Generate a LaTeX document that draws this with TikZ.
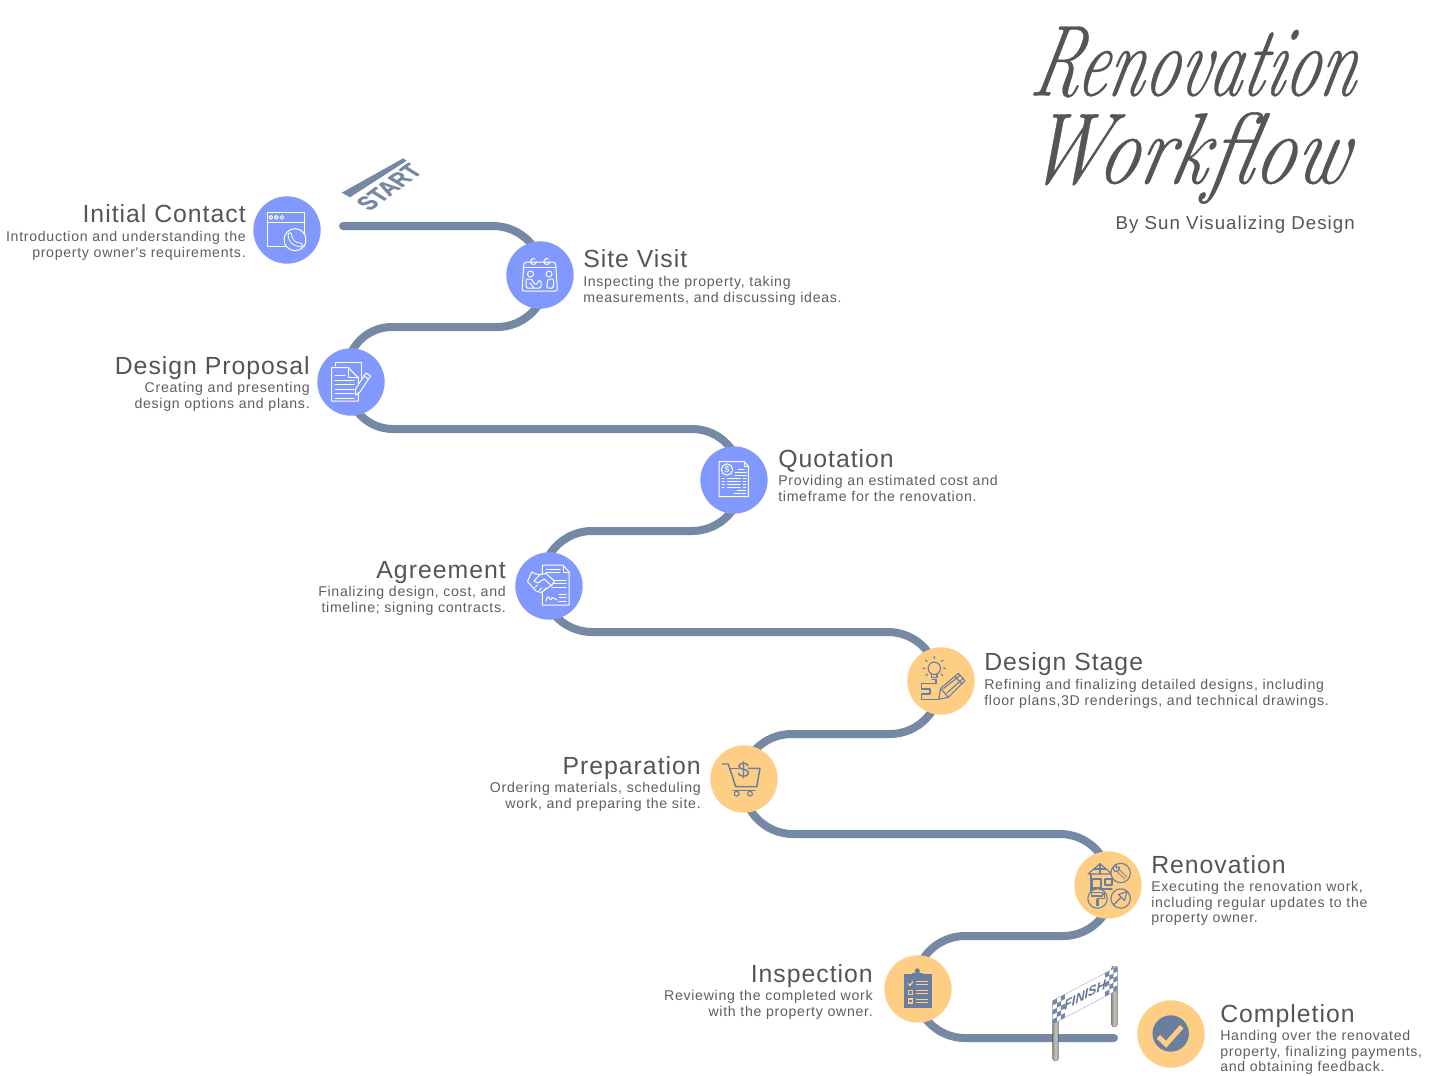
\documentclass[tikz,border=0pt]{standalone}
\usepackage{fontspec}
\newfontfamily\bodyf{Liberation Sans}[LetterSpace=5]
\newfontfamily\headf{Liberation Sans}[LetterSpace=4]
\newfontfamily\byf{Liberation Sans}[LetterSpace=5.5]
\newfontfamily\heavyf{Liberation Sans}[BoldFeatures={FakeBold=1.2}]
\newfontfamily\plainf{Liberation Sans}
\newfontfamily\scriptf{Latin Modern Roman}[ItalicFeatures={FakeBold=0.4}]
\usetikzlibrary{calc}
\definecolor{road}{HTML}{7589A5}
\definecolor{bluec}{HTML}{8199FF}
\definecolor{orangec}{HTML}{FFCE85}
\definecolor{ink}{HTML}{6A7FA0}
\definecolor{txt}{HTML}{555555}
\definecolor{desc}{HTML}{5E5E5E}
\definecolor{postd}{HTML}{8F8F88}
\definecolor{postm}{HTML}{C9C9C4}
\definecolor{finishink}{HTML}{5F7494}
\pgfdeclarelayer{bg}
\pgfsetlayers{bg,main}
\tikzset{
  stage/.style={circle,minimum size=50.5pt,inner sep=0pt,fill=#1},
  headl/.style={anchor=base west,inner sep=0pt,text=txt,font=\headf\fontsize{18.6}{20}\selectfont},
  headr/.style={anchor=base east,inner sep=0pt,text=txt,font=\headf\fontsize{18.6}{20}\selectfont},
  descl/.style={anchor=north west,inner sep=0pt,align=left,text=desc,font=\bodyf\fontsize{10.6}{11.8}\selectfont},
  descr/.style={anchor=north east,inner sep=0pt,align=right,text=desc,font=\bodyf\fontsize{10.6}{11.8}\selectfont},
  titlef/.style={inner sep=0pt,text=txt,font=\scriptf\itshape\fontsize{54}{60}\selectfont},
  road line/.style={draw=road,line width=6pt,line cap=round},
  wi/.style={draw=white,line width=0.75pt,line join=round,line cap=round},
  oi/.style={draw=ink,line width=0.85pt,line join=round,line cap=round},
  postbar/.style={left color=postd,right color=postd,middle color=postm},
}
\begin{document}
\begin{tikzpicture}[x=0.75pt,y=-0.75pt]
\useasboundingbox (0,0) rectangle (1432,1075);
\begin{pgfonlayer}{bg}
\fill[white] (0,0) rectangle (1432,1075);
\end{pgfonlayer}

% stages
\node[stage=bluec] (initial) at (287,230) {};
\node[stage=bluec] (site) at (540,275) {};
\node[stage=bluec] (proposal) at (351,382) {};
\node[stage=bluec] (quote) at (734,480) {};
\node[stage=bluec] (agree) at (549,586) {};
\node[stage=orangec] (dstage) at (941,681) {};
\node[stage=orangec] (prep) at (744,779) {};
\node[stage=orangec] (reno) at (1108,885) {};
\node[stage=orangec] (inspect) at (918,989) {};
\node[stage=orangec] (done) at (1171,1034) {};
\coordinate (roadstart) at (343,226);
\coordinate (roadend) at (1114,1038);

% road
\begin{pgfonlayer}{bg}
\draw[road line] (roadstart) -- (493,226) .. controls (520.5,226) and (543,248.5) .. (543,276) -- (site.center)
  -- (547,277) .. controls (547,304.5) and (524.5,327) .. (497,327) -- (392,327)
  .. controls (367,327) and (347,347) .. (347,372) -- (proposal.center)
  -- (348,384) .. controls (348,409) and (368,429) .. (393,429) -- (692,429)
  .. controls (719.5,429) and (741,451.5) .. (741,479) -- (quote.center)
  -- (742,481) .. controls (742,508.5) and (719.5,531) .. (692,531) -- (592,531)
  .. controls (564.5,531) and (542,553.5) .. (542,581) -- (agree.center)
  -- (542,582) .. controls (542,609.5) and (564.5,632) .. (592,632) -- (888,632)
  .. controls (915.5,632) and (938,654.5) .. (938,682) -- (dstage.center)
  -- (940,684) .. controls (940,711.5) and (917.5,734) .. (890,734) -- (792,734)
  .. controls (764.5,734) and (742,755.5) .. (742,783) -- (prep.center)
  -- (743,784) .. controls (743,811.5) and (765.5,834) .. (793,834) -- (1060,834)
  .. controls (1087.5,834) and (1110,856.5) .. (1110,884) -- (reno.center)
  -- (1113,886) .. controls (1113,913.5) and (1090.5,936) .. (1063,936) -- (965,936)
  .. controls (937.5,936) and (915,958.5) .. (915,986) -- (inspect.center)
  -- (915,988) .. controls (915,1015.5) and (937.5,1038) .. (965,1038) -- (roadend);
\end{pgfonlayer}

% START
\fill[road] (341.7,192.7) -- (403.3,158.3) -- (406.7,160.7) -- (350,197.3) -- cycle;
\node[inner sep=0pt,text=road,font=\heavyf\bfseries\fontsize{20}{22}\selectfont,cm={0.62,0.46,-0.8,0.5,(0,0)},transform shape] (starttxt) at (389,187) {START};

% FINISH
\fill[postbar,rounded corners=1.5pt] (1111.7,966) rectangle (1117.3,1026.7);
\fill[postbar,rounded corners=1.5pt] (1052.7,1000) rectangle (1058.3,1060.7);
\fill[white,draw=road!70,line width=0.3pt] (1052.7,1000.7) -- (1117.3,966.7) -- (1117.3,990) -- (1052.7,1024) -- cycle;
\foreach \u/\v in {0/0,0/2,0/4,1/1,1/3,2/0,2/2,2/4,14/1,14/3,15/0,15/2,15/4,13/0,13/2,13/4}{
  \pgfmathsetmacro{\xa}{1052.7+\u*4.04}
  \pgfmathsetmacro{\xb}{1052.7+(\u+1)*4.04}
  \pgfmathsetmacro{\ya}{1000.7-\u*2.125+\v*4.66}
  \pgfmathsetmacro{\yb}{1000.7-(\u+1)*2.125+\v*4.66}
  \fill[road] (\xa,\ya) -- (\xb,\yb) -- (\xb,\yb+4.66) -- (\xa,\ya+4.66) -- cycle;
}
\node[inner sep=0pt,text=finishink,font=\plainf\bfseries\itshape\fontsize{10}{12}\selectfont,cm={0.95,0.5,0,1,(0,0)},transform shape] (finishtxt) at (1085,995) {FINISH};

% Icon: initial contact
\draw[wi] (267.3,212.5) rectangle (304.7,246.7);
\draw[wi] (267.3,222) -- (304.7,222);
\foreach \a in {270.9,276.4,282}{\draw[wi,line width=0.7pt] (\a,217.4) circle (1.9);}
\draw[wi,fill=bluec] (295,239.7) circle (11);
\draw[draw=white,double=bluec,line width=0.65pt,double distance=2pt,line cap=round] (289.8,234.5) .. controls (290,240.5) and (294,244.5) .. (300.5,245);

% Icon: site visit
\draw[wi,rounded corners=1.5pt] (524,262) -- (555.5,262) -- (557.5,291) -- (522,291) -- cycle;
\draw[wi] (523.5,267) -- (556,267);
\draw[wi] (536.5,262) arc (10:300:3);
\draw[wi] (549.8,262) arc (10:300:3);
\draw[wi] (530.5,274) circle (3);
\draw[wi] (549,274) circle (3);
\draw[wi,rounded corners=1pt] (526,288) -- (526,279) -- (532,279) -- (534,284) -- (538,284) -- (538,280.5) -- (541,280.5) -- (541,288) -- cycle;
\draw[wi,rounded corners=1pt] (553.5,288) -- (553.5,279) -- (548,279) -- (546.5,288) -- cycle;
\draw[wi] (530,283) -- (534,288);

% Icon: design proposal
\draw[wi] (335,366) -- (335,362.7) -- (361,362.7) -- (361,384);
\draw[wi,fill=bluec] (331.7,367.7) -- (348.3,367.7) -- (358.3,377.7) -- (358.3,401) -- (331.7,401) -- cycle;
\draw[wi] (348.3,367.7) -- (348.3,377.7) -- (358.3,377.7);
\draw[wi] (335,375) -- (345,375);
\foreach \a in {380,384.5,389,393.5,398}{\draw[wi] (335,\a) -- (354,\a);}
\draw[wi,fill=bluec] (355.5,389) -- (366,373) -- (370.5,376) -- (360,392) -- (355.5,395) -- cycle;
\draw[wi] (364,376) -- (368.5,379);

% Icon: quotation
\draw[wi] (719,461.7) -- (744,461.7) -- (748.3,466) -- (748.3,496.7) -- (719,496.7) -- cycle;
\draw[wi] (744,461.7) -- (744,466) -- (748.3,466);
\node[wi,circle,inner sep=0pt,minimum size=8.5pt,text=white,font=\plainf\fontsize{6.5}{7}\selectfont] (qdollar) at (727,469.5) {\$};
\draw[wi] (738,469.5) -- (744,469.5) (735,472.5) -- (746,472.5) (735,475) -- (746,475);
\foreach \a in {478,481,484,487}{\draw[wi] (722,\a) -- (724,\a) (727.5,\a) -- (740,\a) (743,\a) -- (745.5,\a);}
\draw[wi] (737,490) -- (745.5,490) (734,493.5) -- (745.5,493.5);

% Icon: agreement
\draw[wi] (542.3,565) -- (563,565) -- (569,572) -- (569,605) -- (542.3,605) -- cycle;
\draw[wi] (563,565) -- (563,572) -- (569,572);
\draw[wi] (546,569) -- (560,569) (546,572.5) -- (560,572.5);
\foreach \a in {580,583.5,587}{\draw[wi] (552,\a) -- (566,\a);}
\foreach \a in {594,597.5,601}{\draw[wi] (559,\a) -- (566,\a);}
\draw[wi] (546,601) .. controls (549,590) and (549,604) .. (552,598) .. controls (553,596) and (554,600) .. (557,600);
\draw[wi,fill=bluec] (531.7,572) -- (527.5,581.5) -- (536,591) -- (541,592.5) -- (552,585) -- (554.5,581) -- (546,573.5) -- (540,574.5) -- (536,574) -- cycle;
\draw[wi] (540,574.5) -- (534,581) -- (538,583) -- (544,579) -- (552,586);
\draw[wi] (535,587.5) -- (537.5,585) (539,590.5) -- (541.5,588) (544,590) -- (546,588);

% Icon: design stage
\draw[oi] (934.3,668.3) circle (6.2);
\draw[oi] (931.5,674) -- (931.5,677.5) -- (937,677.5) -- (937,674);
\draw[oi] (932,679.5) -- (936.5,679.5);
\draw[oi] (934.3,656.5) -- (934.3,658.5) (925.5,660) -- (927,661.5) (943,660) -- (941.5,661.5) (923,668.3) -- (925,668.3) (945.5,668.3) -- (943.5,668.3) (926,675.5) -- (927.5,674) (942.5,675.5) -- (941,674);
\draw[oi] (937.3,699.3) -- (921.7,699.3) -- (921.7,694) -- (930,694) -- (930,689) -- (921.7,689) -- (921.7,683.3) -- (936,683.3) -- (936,680);
\draw[oi] (938.7,699.3) -- (940.7,688.3) -- (958.3,673.3) -- (965,680.7) -- (948.3,697.3) -- cycle;
\draw[oi] (940.7,688.3) -- (948.3,697.3) (943.5,688.5) -- (960,675.5) (947,693) -- (963,678.5) (955,676.5) -- (961.5,683.5);

% Icon: preparation
\draw[oi,line width=1.1pt] (722.7,764) -- (728.3,764) -- (735.7,786.7) -- (756.7,786.7) -- (760,768.3) -- (748.3,768.3);
\draw[oi,line width=1.1pt] (730,768.3) -- (738.3,768.3);
\draw[oi,line width=1.1pt] (733.3,790.7) -- (755,790.7);
\draw[oi] (736.7,793.7) circle (2.4) (750,793.7) circle (2.4);
\node[inner sep=0pt,text=ink,font=\plainf\fontsize{16}{18}\selectfont] (pdollar) at (743.5,770) {\$};

% Icon: renovation
\draw[oi] (1088,874) -- (1100,863.7) -- (1112,874) -- cycle;
\draw[oi] (1091,874) -- (1091,904) (1091,889) -- (1112,889);
\draw[oi] (1100,863.7) -- (1100,874) (1094,869) -- (1106,869);
\draw[oi] (1092,879) rectangle (1101,888);
\draw[oi] (1105,879) rectangle (1112,885);
\draw[oi,fill=orangec] (1120.7,873) circle (9.7);
\draw[oi,fill=orangec] (1097.5,898.5) circle (9.7);
\draw[oi,fill=orangec] (1120.7,898.5) circle (9.7);
\draw[draw=ink,double=orangec,line width=0.7pt,double distance=1.4pt] (1116.5,869) -- (1125.5,878);
\draw[oi,fill=orangec] (1116,864.5) -- (1112.8,868) -- (1115,871.5) -- (1118.5,870.5) -- (1119.5,867) -- (1116.5,868) -- cycle;
\draw[oi] (1091.5,892.5) rectangle (1102.5,896);
\draw[oi] (1102.5,894) -- (1104.5,894) -- (1104.5,898.5) -- (1097.5,898.5) -- (1097.5,900);
\draw[oi,fill=ink] (1096.5,900) rectangle (1098.5,905.5);
\draw[oi] (1113.5,905) -- (1120.5,898);
\draw[oi] (1118.5,894.5) -- (1127,891.5) -- (1124.5,900.5) -- cycle;

% Icon: inspection
\fill[ink] (904,974.3) rectangle (931.7,1007.7);
\fill[ink] (911.7,973) rectangle (923.3,977);
\fill[ink] (917.3,971) circle (2.6);
\draw[orangec,line width=0.9pt] (908.3,983.5) -- (910,985.5) -- (913,981.5);
\draw[orangec,line width=0.9pt] (908.3,990.3) rectangle (912.5,994.5);
\draw[orangec,line width=0.9pt] (908.3,999) rectangle (912.5,1003);
\foreach \a in {983.3,992.3,1001.3}{\draw[orangec,line width=0.8pt] (916,\a-1.6) -- (928.3,\a-1.6) (916,\a+1.6) -- (928.3,\a+1.6);}

% Icon: completion
\fill[ink] (1170.7,1033.5) circle (18.2);
\draw[orangec,line width=3.6pt] (1158.3,1036.7) -- (1166,1044.3) -- (1181.7,1026.7);

% Labels
\node[headr] (h1) at (246,222.5) {Initial Contact};
\node[descr] (d1) at (246,230) {\strut Introduction and understanding the\\property owner's requirements.};
\node[headl] (h2) at (583,267.5) {Site Visit};
\node[descl] (d2) at (583,275) {\strut Inspecting the property, taking\\measurements, and discussing ideas.};
\node[headr] (h3) at (310,374.5) {Design Proposal};
\node[descr] (d3) at (310,381) {\strut Creating and presenting\\design options and plans.};
\node[headl] (h4) at (778,467.5) {Quotation};
\node[descl] (d4) at (778,474) {\strut Providing an estimated cost and\\timeframe for the renovation.};
\node[headr] (h5) at (506,578.5) {Agreement};
\node[descr] (d5) at (506,585) {\strut Finalizing design, cost, and\\timeline; signing contracts.};
\node[headl] (h6) at (984,670.5) {Design Stage};
\node[descl] (d6) at (984,678) {\strut Refining and finalizing detailed designs, including\\floor plans,3D renderings, and technical drawings.};
\node[headr] (h7) at (701,774.5) {Preparation};
\node[descr] (d7) at (701,781) {\strut Ordering materials, scheduling\\work, and preparing the site.};
\node[headl] (h8) at (1151,873.5) {Renovation};
\node[descl] (d8) at (1151,880) {\strut Executing the renovation work,\\including regular updates to the\\property owner.};
\node[headr] (h9) at (873,982.5) {Inspection};
\node[descr] (d9) at (873,989) {\strut Reviewing the completed work\\with the property owner.};
\node[headl] (h10) at (1220,1022.5) {Completion};
\node[descl] (d10) at (1220,1029) {\strut Handing over the renovated\\property, finalizing payments,\\and obtaining feedback.};

% Title
\node[titlef,xslant=0.22,xscale=0.94,yscale=1.4,transform shape] (t1) at (1198,62) {Renovation};
\node[titlef,xslant=0.22,xscale=1.12,yscale=1.4,transform shape] (t2) at (1188,158) {Workflow};
\node[anchor=base east,inner sep=0pt,text=txt,font=\byf\fontsize{14}{15}\selectfont] (by) at (1355,229) {By Sun Visualizing Design};
\end{tikzpicture}
\end{document}
